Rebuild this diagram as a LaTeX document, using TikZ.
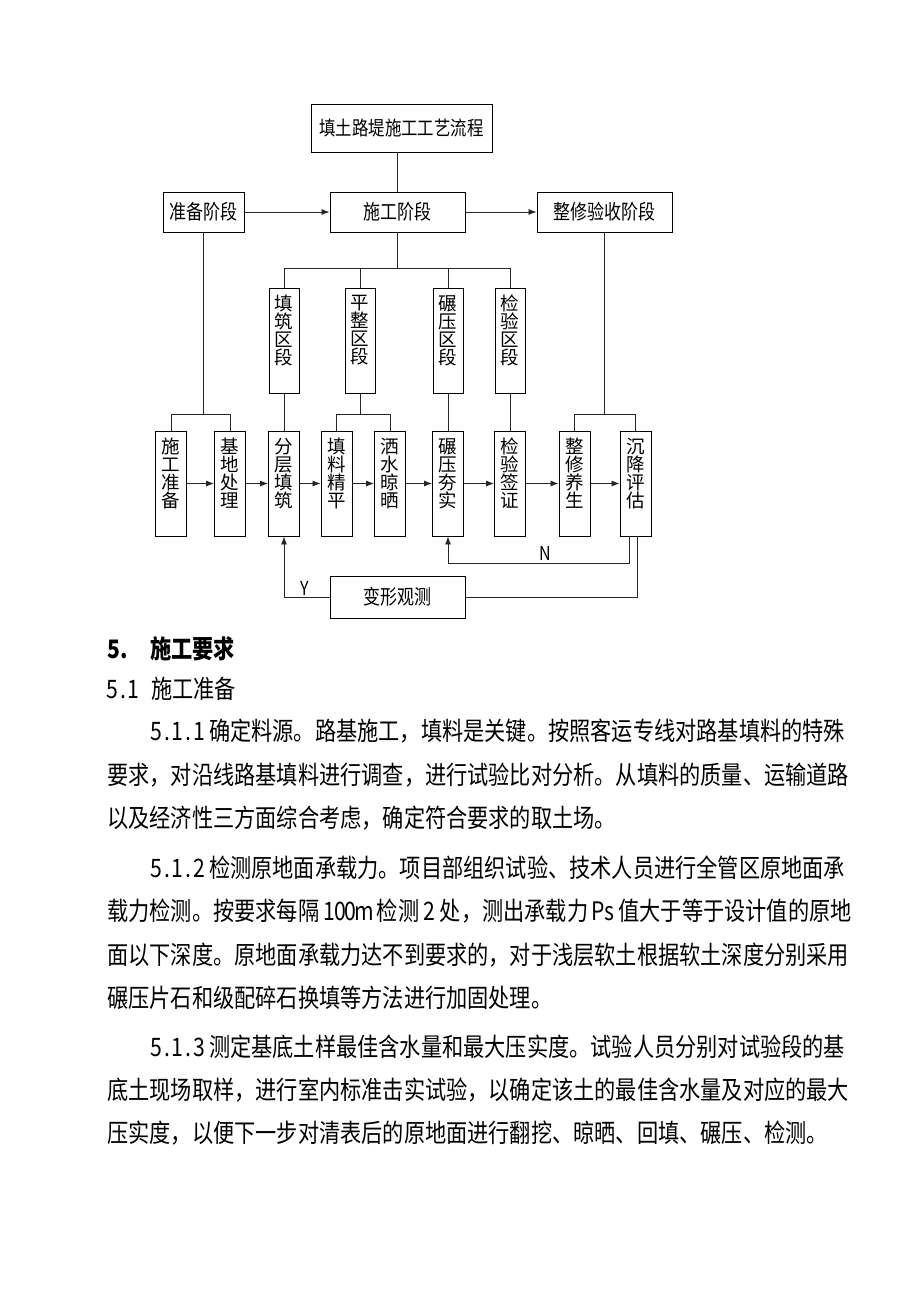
\documentclass[tikz,border=0pt]{standalone}
\usepackage{fontspec}
\usepackage{graphicx}
\setmainfont{Noto Sans CJK SC}
\usetikzlibrary{arrows.meta,calc}
\newcommand\dg[1]{\makebox[10.6pt][c]{#1}}
\newcommand\vst[1]{\scalebox{1}[1.2]{#1}}
\begin{document}
\begin{tikzpicture}[x=1pt,y=-1pt,
  box/.style={draw,line width=0.9pt,inner sep=0pt,minimum height=40pt,font=\fontsize{17}{17}\selectfont},
  vbox/.style={draw,line width=0.9pt,inner sep=0pt,minimum width=30pt,minimum height=105pt},
  lbox/.style={draw,line width=0.9pt,inner sep=0pt,minimum width=31pt,minimum height=105pt},
  vlab/.style={anchor=north,inner sep=0pt,align=center,font=\fontsize{18.5}{18}\selectfont},
  ln/.style={line width=0.8pt,black!85},
  arr/.style={ln,-{Latex[length=8pt,width=6pt]}},
  lab/.style={inner sep=0pt,font=\fontsize{16}{16}\selectfont},
  txt/.style={anchor=west,inner sep=0pt,font=\fontsize{21.2}{21.2}\selectfont}]
\fill[white] (0,0) rectangle (920,1302);
\useasboundingbox (0,0) rectangle (920,1302);

% top level
\node[box,minimum width=181pt,minimum height=48pt,font=\fontsize{16.4}{16.4}\selectfont] (title) at (401.5,128) {\vst{填土路堤施工工艺流程}};
\node[box,minimum width=81pt] (prep) at (203.5,212) {\vst{准备阶段}};
\node[box,minimum width=135pt] (cons) at (397.5,212) {\vst{施工阶段}};
\node[box,minimum width=135pt] (fin) at (604.5,212) {\vst{整修验收阶段}};

\draw[ln] (cons.north) -- (cons.north |- title.south);
\draw[arr] (prep) -- (cons);
\draw[arr] (cons) -- (fin);

% section boxes
\node[vbox] (v1) at (284,340.5) {};
\node[vbox] (v2) at (360,340.5) {};
\node[vbox] (v3) at (448,340.5) {};
\node[vbox] (v4) at (510,340.5) {};
\node[vlab] (v1t) at (284,295) {填\\筑\\区\\段};
\node[vlab] (v2t) at (360,295) {平\\整\\区\\段};
\node[vlab] (v3t) at (448,295) {碾\\压\\区\\段};
\node[vlab] (v4t) at (510,295) {检\\验\\区\\段};

\coordinate (bus) at (397.5,268);
\draw[ln] (cons.south) -- (bus);
\draw[ln] (v1.north) -- (v1.north |- bus) -- (v4.north |- bus) -- (v4.north);
\draw[ln] (v2.north) -- (v2.north |- bus);
\draw[ln] (v3.north) -- (v3.north |- bus);

% lower row
\node[lbox] (b1) at (171,483.5) {};
\node[lbox] (b2) at (230,483.5) {};
\node[lbox] (b3) at (284,483.5) {};
\node[lbox] (b4) at (336.5,483.5) {};
\node[lbox] (b5) at (390,483.5) {};
\node[lbox] (b6) at (448,483.5) {};
\node[lbox] (b7) at (510,483.5) {};
\node[lbox] (b8) at (574.5,483.5) {};
\node[lbox] (b9) at (635.5,483.5) {};
\node[vlab] (b1t) at (171,438) {施\\工\\准\\备};
\node[vlab] (b2t) at (230,438) {基\\地\\处\\理};
\node[vlab] (b3t) at (284,438) {分\\层\\填\\筑};
\node[vlab] (b4t) at (336.5,438) {填\\料\\精\\平};
\node[vlab] (b5t) at (390,438) {洒\\水\\晾\\晒};
\node[vlab] (b6t) at (448,438) {碾\\压\\夯\\实};
\node[vlab] (b7t) at (510,438) {检\\验\\签\\证};
\node[vlab] (b8t) at (574.5,438) {整\\修\\养\\生};
\node[vlab] (b9t) at (635.5,438) {沉\\降\\评\\估};

\coordinate (k) at (400,414);
\draw[ln] (prep.south) -- (prep.south |- k);
\draw[ln] (b1.north) -- (b1.north |- k) -- (b2.north |- k) -- (b2.north);
\draw[ln] (v2.south) -- (v2.south |- k);
\draw[ln] (b4.north) -- (b4.north |- k) -- (b5.north |- k) -- (b5.north);
\draw[ln] (fin.south) -- (fin.south |- k);
\draw[ln] (b8.north) -- (b8.north |- k) -- (b9.north |- k) -- (b9.north);
\draw[ln] (v1.south) -- (b3.north);
\draw[ln] (v3.south) -- (b6.north);
\draw[ln] (v4.south) -- (b7.north);

\draw[arr] (b1) -- (b2);
\draw[arr] (b2) -- (b3);
\draw[arr] (b3) -- (b4);
\draw[arr] (b4) -- (b5);
\draw[arr] (b5) -- (b6);
\draw[arr] (b6) -- (b7);
\draw[arr] (b7) -- (b8);
\draw[arr] (b8) -- (b9);

% feedback
\node[box,minimum width=135pt,minimum height=42pt] (obs) at (397.5,597) {\vst{变形观测}};
\coordinate (n1) at (629,563);
\draw[arr] (b9.south -| n1) -- (n1) -- (n1 -| b6) -- (b6.south);
\node[lab] (nl) at (545,553) {\vst{N}};
\coordinate (o1) at (637,597);
\draw[ln] (b9.south -| o1) -- (o1) -- (obs.east);
\draw[arr] (obs.west) -- (obs.west -| b3) -- (b3.south);
\node[lab] (yl) at (305,588) {\vst{Y}};

% body text
\node[txt,font=\fontsize{21.2}{21.2}\selectfont\bfseries] (h1) at (107,649) {\vst{\makebox[43pt][l]{5.}施工要求}};
\node[txt] (h2) at (107,689) {\vst{\makebox[44pt][l]{\dg5\dg.\dg1}施工准备}};
\node[txt] (p1) at (151,731) {\vst{\dg5\dg.\dg1\dg.\dg1\hspace{5pt}确定料源。路基施工，填料是关键。按照客运专线对路基填料的特殊}};
\node[txt] (p2) at (107,775) {\vst{要求，对沿线路基填料进行调查，进行试验比对分析。从填料的质量、运输道路}};
\node[txt] (p3) at (107,818) {\vst{以及经济性三方面综合考虑，确定符合要求的取土场。}};
\node[txt] (p4) at (151,868) {\vst{\dg5\dg.\dg1\dg.\dg2\hspace{5pt}检测原地面承载力。项目部组织试验、技术人员进行全管区原地面承}};
\node[txt] (p5) at (107,911) {\vst{载力检测。按要求每隔\hspace{5pt}\dg1\dg0\dg0\makebox[17pt][c]{m}\hspace{4pt}检测\hspace{5pt}\dg2\hspace{5pt}处，测出承载力\hspace{5pt}\dg P\dg s\hspace{4pt}值大于等于设计值的原地}};
\node[txt] (p6) at (107,955) {\vst{面以下深度。原地面承载力达不到要求的，对于浅层软土根据软土深度分别采用}};
\node[txt] (p7) at (107,998) {\vst{碾压片石和级配碎石换填等方法进行加固处理。}};
\node[txt] (p8) at (151,1047) {\vst{\dg5\dg.\dg1\dg.\dg3\hspace{5pt}测定基底土样最佳含水量和最大压实度。试验人员分别对试验段的基}};
\node[txt] (p9) at (107,1090) {\vst{底土现场取样，进行室内标准击实试验，以确定该土的最佳含水量及对应的最大}};
\node[txt] (p10) at (107,1133) {\vst{压实度，以便下一步对清表后的原地面进行翻挖、晾晒、回填、碾压、检测。}};
\end{tikzpicture}
\end{document}
